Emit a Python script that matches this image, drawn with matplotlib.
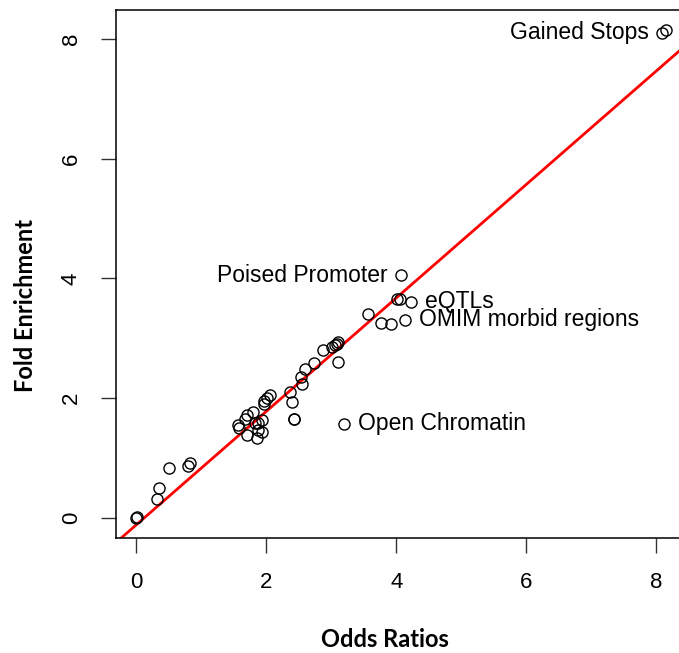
import matplotlib
matplotlib.use("Agg")
import matplotlib.pyplot as plt

# odds ratios vs fold enrichment per annotation category
odds_ratios = [0.00, 0.01, 0.32, 0.35, 0.51, 0.80, 0.83,
               1.56, 1.58, 1.68, 1.70, 1.70, 1.80, 1.83, 1.86, 1.88, 1.88,
               1.93, 1.93, 1.96, 1.97, 2.01, 2.06, 2.36, 2.40, 2.42, 2.43,
               2.53, 2.55, 2.60, 2.74, 2.87, 3.01, 3.06, 3.09, 3.10, 3.10,
               3.19, 3.56, 3.76, 3.92, 4.01, 4.06, 4.08, 4.14, 4.23,
               8.09, 8.14]
fold_enrichment = [0.00, 0.01, 0.31, 0.50, 0.83, 0.87, 0.91,
                   1.55, 1.50, 1.66, 1.72, 1.38, 1.77, 1.58, 1.34, 1.59, 1.47,
                   1.63, 1.44, 1.96, 1.90, 2.00, 2.05, 2.10, 1.94, 1.65, 1.66,
                   2.36, 2.24, 2.49, 2.58, 2.80, 2.86, 2.88, 2.91, 2.94, 2.61,
                   1.57, 3.41, 3.25, 3.23, 3.66, 3.65, 4.05, 3.31, 3.61,
                   8.10, 8.15]

# labelled categories: (name, odds ratio, fold enrichment, side)
labels = [("Gained Stops", 8.09, 8.10, "left"),
          ("Poised Promoter", 4.08, 4.05, "left"),
          ("eQTLs", 4.23, 3.61, "right"),
          ("OMIM morbid regions", 4.14, 3.31, "right"),
          ("Open Chromatin", 3.19, 1.57, "right")]

# fitted line
fit_intercept = -0.116
fit_slope = 0.9475

ticks = [0, 2, 4, 6, 8]

plt.rcParams['font.family'] = ['Liberation Sans', 'DejaVu Sans']

fig = plt.figure(figsize=(6.79, 6.53), dpi=100)
ax = fig.add_axes([116 / 679, 115 / 653, 571 / 679, 528 / 653])

ax.plot(odds_ratios, fold_enrichment, 'o', mfc='none', mec='black',
        ms=8, mew=1.0, zorder=3)
ax.axline((0, fit_intercept), slope=fit_slope, color='#ff0000', lw=2.0, zorder=2)

for name, x, y, side in labels:
    dx = -10 if side == "left" else 10
    ax.annotate(name, (x, y), xytext=(dx, 0), textcoords='offset points',
                ha='right' if side == "left" else 'left', va='center',
                fontsize=16.5)

ax.set_xlim(-0.31, 8.47)
ax.set_ylim(-0.334, 8.48)
ax.set_xticks(ticks)
ax.set_yticks(ticks)
ax.tick_params(length=10.5, width=1.0, pad=14, labelsize=16, color='#333333')
ax.tick_params(axis='y', labelrotation=90)
for lab in ax.get_yticklabels():
    lab.set_va('center')
for sp in ax.spines.values():
    sp.set_linewidth(1.1)

fig.text(385 / 679, 6 / 653, "Odds Ratios", ha='center', va='baseline',
         fontsize=17, fontweight='bold', family=['Lato', 'DejaVu Sans'])
fig.text(33 / 679, (653 - 305) / 653, "Fold Enrichment", ha='center', va='baseline',
         rotation=90, rotation_mode='anchor', fontsize=17, fontweight='bold',
         family=['Lato', 'DejaVu Sans'])

fig.savefig("out.png", dpi=100)
